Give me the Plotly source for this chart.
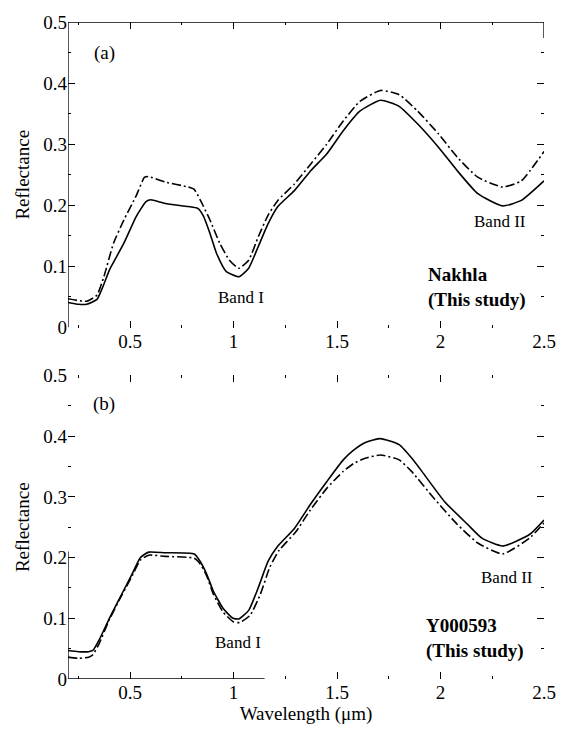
import plotly.graph_objects as go

# ---- data ----
# Panel (a): Nakhla
nakhla_solid_wl = [0.20, 0.25, 0.29, 0.34, 0.37, 0.40, 0.47, 0.53, 0.577, 0.60, 0.67, 0.78, 0.827, 0.855,
                   0.886, 0.917, 0.964, 1.026, 1.073, 1.12, 1.167, 1.214, 1.294, 1.374, 1.45, 1.53, 1.61,
                   1.71, 1.80, 1.89, 1.99, 2.08, 2.18, 2.30, 2.39, 2.50]
nakhla_solid = [0.041, 0.038, 0.038, 0.046, 0.068, 0.094, 0.138, 0.182, 0.206, 0.209, 0.203, 0.198, 0.195,
                0.182, 0.154, 0.122, 0.092, 0.083, 0.097, 0.133, 0.170, 0.198, 0.224, 0.257, 0.284, 0.322,
                0.354, 0.372, 0.362, 0.333, 0.295, 0.257, 0.219, 0.199, 0.208, 0.240]
nakhla_dash_wl = [0.20, 0.29, 0.34, 0.374, 0.42, 0.47, 0.53, 0.57, 0.59, 0.67, 0.78, 0.81, 0.84, 0.886,
                  0.933, 0.98, 1.026, 1.073, 1.12, 1.167, 1.214, 1.294, 1.374, 1.45, 1.53, 1.61, 1.71,
                  1.80, 1.89, 1.99, 2.08, 2.18, 2.30, 2.39, 2.50]
nakhla_dashdot = [0.047, 0.043, 0.053, 0.084, 0.138, 0.176, 0.216, 0.246, 0.247, 0.238, 0.230, 0.226, 0.208,
                  0.176, 0.138, 0.110, 0.097, 0.110, 0.149, 0.184, 0.208, 0.235, 0.268, 0.300, 0.338,
                  0.370, 0.388, 0.381, 0.354, 0.317, 0.279, 0.246, 0.230, 0.240, 0.288]

# Panel (b): Y000593
y0593_solid_wl = [0.20, 0.25, 0.30, 0.32, 0.35, 0.40, 0.46, 0.51, 0.55, 0.59, 0.67, 0.81, 0.838, 0.87,
                  0.902, 0.95, 0.997, 1.026, 1.073, 1.12, 1.167, 1.214, 1.294, 1.37, 1.45, 1.53, 1.58,
                  1.64, 1.71, 1.80, 1.875, 1.91, 2.02, 2.13, 2.20, 2.30, 2.43, 2.50]
y0593_solid = [0.047, 0.045, 0.045, 0.047, 0.064, 0.100, 0.140, 0.173, 0.200, 0.209, 0.208, 0.206, 0.194,
               0.173, 0.145, 0.116, 0.100, 0.099, 0.113, 0.151, 0.194, 0.219, 0.248, 0.287, 0.325, 0.361,
               0.377, 0.390, 0.396, 0.386, 0.358, 0.342, 0.292, 0.255, 0.232, 0.219, 0.238, 0.262]
y0593_dash_wl = [0.20, 0.25, 0.30, 0.32, 0.35, 0.40, 0.46, 0.51, 0.55, 0.59, 0.67, 0.81, 0.838, 0.87,
                 0.902, 0.95, 1.00, 1.03, 1.08, 1.13, 1.175, 1.22, 1.30, 1.37, 1.45, 1.53, 1.58, 1.64,
                 1.71, 1.80, 1.86, 1.97, 2.08, 2.18, 2.30, 2.43, 2.50]
y0593_dashdot = [0.036, 0.034, 0.036, 0.040, 0.058, 0.098, 0.138, 0.170, 0.196, 0.204, 0.202, 0.199, 0.190,
                 0.170, 0.140, 0.110, 0.094, 0.093, 0.105, 0.140, 0.184, 0.212, 0.242, 0.278, 0.314, 0.342,
                 0.355, 0.364, 0.369, 0.361, 0.342, 0.297, 0.255, 0.224, 0.206, 0.232, 0.257]

x_tickvals = [0.5, 1, 1.5, 2, 2.5]
x_ticktext = ["0.5", "1", "1.5", "2", "2.5"]
x_minor = [0.25, 0.75, 1.25, 1.75, 2.25]
y_tickvals = [0, 0.1, 0.2, 0.3, 0.4, 0.5]
y_ticktext = ["0", "0.1", "0.2", "0.3", "0.4", "0.5"]
y_minor = [0.05, 0.15, 0.25, 0.35, 0.45]

FONT = "Liberation Serif"
LW = 1.6
DASHDOT = "9px,3px,2px,3px"
SM = 0.5

fig = go.Figure()
fig.add_trace(go.Scatter(x=nakhla_solid_wl, y=nakhla_solid, mode="lines",
                         line=dict(color="black", width=LW, shape="spline", smoothing=SM), xaxis="x", yaxis="y"))
fig.add_trace(go.Scatter(x=nakhla_dash_wl, y=nakhla_dashdot, mode="lines",
                         line=dict(color="black", width=LW, dash=DASHDOT, shape="spline", smoothing=SM), xaxis="x", yaxis="y"))
fig.add_trace(go.Scatter(x=y0593_solid_wl, y=y0593_solid, mode="lines",
                         line=dict(color="black", width=LW, shape="spline", smoothing=SM), xaxis="x2", yaxis="y2"))
fig.add_trace(go.Scatter(x=y0593_dash_wl, y=y0593_dashdot, mode="lines",
                         line=dict(color="black", width=LW, dash=DASHDOT, shape="spline", smoothing=SM), xaxis="x2", yaxis="y2"))

def xax(anchor, title=None):
    d = dict(range=[0.2, 2.5], anchor=anchor, showgrid=False, zeroline=False, showline=False,
             ticks="inside", ticklen=7, tickcolor="black", tickwidth=1, mirror="allticks",
             tickvals=x_tickvals, ticktext=x_ticktext,
             tickfont=dict(family=FONT, size=19, color="black"),
             minor=dict(tickvals=x_minor, ticks="inside", ticklen=3, tickcolor="black"))
    if title:
        d["title"] = dict(text=title, font=dict(family=FONT, size=19, color="black"), standoff=4)
    return d

def yax(anchor, domain):
    return dict(range=[0, 0.5], anchor=anchor, domain=domain, showgrid=False, zeroline=False, showline=False,
                ticks="inside", ticklen=7, tickcolor="black", tickwidth=1, mirror="allticks",
                tickvals=y_tickvals, ticktext=y_ticktext,
                tickfont=dict(family=FONT, size=19, color="black"),
                minor=dict(tickvals=y_minor, ticks="inside", ticklen=3, tickcolor="black"),
                title=dict(text="Reflectance", font=dict(family=FONT, size=19, color="black"), standoff=8))

fig.update_layout(
    width=568, height=732,
    margin=dict(l=68, r=15, t=17, b=53),
    paper_bgcolor="white", plot_bgcolor="white",
    showlegend=False,
    xaxis=xax("y"),
    yaxis=yax("x", [0.535, 1.0]),
    xaxis2=xax("y2", "Wavelength (\u03bcm)"),
    yaxis2=yax("x2", [0.0, 0.462]),
)

line = dict(color="black", width=1.3)
# partial frame lines as in the scanned original
fig.add_shape(type="line", xref="x", yref="y", x0=0.2, x1=0.2, y0=0, y1=0.5, line=line)
fig.add_shape(type="line", xref="x", yref="y", x0=0.2, x1=2.5, y0=0.5, y1=0.5, line=line)
fig.add_shape(type="line", xref="x", yref="y", x0=2.5, x1=2.5, y0=0.474, y1=0.5, line=line)
fig.add_shape(type="line", xref="x2", yref="y2", x0=0.2, x1=0.2, y0=0, y1=0.21, line=line)
fig.add_shape(type="line", xref="x2", yref="y2", x0=0.2, x1=1.15, y0=0, y1=0, line=line)

tf = dict(family=FONT, size=17, color="black")
pf = dict(family=FONT, size=19, color="black")
bf = dict(family=FONT, size=19, color="black")
ann = [
    dict(x=0.375, y=0.45, xref="x", yref="y", text="(a)", font=pf),
    dict(x=0.375, y=0.453, xref="x2", yref="y2", text="(b)", font=pf),
    dict(x=1.035, y=0.049, xref="x", yref="y", text="Band I", font=tf),
    dict(x=2.285, y=0.174, xref="x", yref="y", text="Band II", font=tf),
    dict(x=1.02, y=0.06, xref="x2", yref="y2", text="Band I", font=tf),
    dict(x=2.32, y=0.167, xref="x2", yref="y2", text="Band II", font=tf),
    dict(x=1.93, y=0.065, xref="x", yref="y", text="<b>Nakhla<br>(This study)</b>", font=bf,
         xanchor="left", align="left"),
    dict(x=1.92, y=0.067, xref="x2", yref="y2", text="<b>Y000593<br>(This study)</b>", font=bf,
         xanchor="left", align="left"),
]
for a in ann:
    a["showarrow"] = False
    fig.add_annotation(**a)

fig.write_html(
    "out.html",
    config={"displayModeBar": False},
    post_script="document.body.style.margin='0px';document.documentElement.style.overflow='hidden';",
)
